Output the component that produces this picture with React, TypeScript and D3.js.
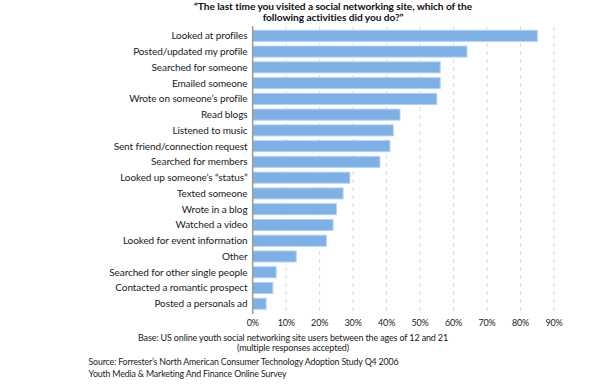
import React from 'react';
import * as d3 from 'd3';

const categories = [
  'Looked at profiles',
  'Posted/updated my profile',
  'Searched for someone',
  'Emailed someone',
  'Wrote on someone’s profile',
  'Read blogs',
  'Listened to music',
  'Sent friend/connection request',
  'Searched for members',
  'Looked up someone’s “status”',
  'Texted someone',
  'Wrote in a blog',
  'Watched a video',
  'Looked for event information',
  'Other',
  'Searched for other single people',
  'Contacted a romantic prospect',
  'Posted a personals ad',
];
const values = [85, 64, 56, 56, 55, 44, 42, 41, 38, 29, 27, 25, 24, 22, 13, 7, 6, 4];
const ticks = [0, 10, 20, 30, 40, 50, 60, 70, 80, 90];

const titleLines = [
  '“The last time you visited a social networking site, which of the',
  'following activities did you do?”',
];
const baseLines = [
  'Base: US online youth social networking site users between the ages of 12 and 21',
  '(multiple responses accepted)',
];
const sourceLines = [
  'Source: Forrester’s North American Consumer Technology Adoption Study Q4 2006',
  'Youth Media & Marketing And Finance Online Survey',
];

const W = 594, H = 388;
const FONT = 'Lato, "Open Sans", sans-serif';

export default function App() {
  const x = d3.scaleLinear().domain([0, 90]).range([252.7, 554]);
  const y = d3.scaleBand<string>().domain(categories).range([25.6, 314]).padding(0.3);
  const [y0, y1] = [27, 313];

  return (
    <svg width={W} height={H} style={{ position: 'absolute', left: 0, top: 0, background: '#fff' }} fontFamily={FONT}>
      {titleLines.map((t, i) => (
        <text key={t} x={333} y={9.5 + i * 11.5} textAnchor="middle" fontSize={10.2} fontWeight="bold" fill="#111" letterSpacing={-0.08}>{t}</text>
      ))}

      {ticks.slice(1).map(t => (
        <line key={t} x1={x(t)} x2={x(t)} y1={y0} y2={y1} stroke="#d9d9d9" strokeWidth={1} strokeDasharray="4,4" />
      ))}

      {categories.map((c, i) => (
        <g key={c}>
          <rect x={x(0)} y={y(c)} width={x(values[i]) - x(0)} height={y.bandwidth()} fill="#7db1e6" stroke="#b3d2f2" strokeWidth={1} />
          <text x={247.5} y={(y(c) ?? 0) + y.bandwidth() / 2} dy="0.35em" textAnchor="end" fontSize={10} letterSpacing={-0.1} fill="#1a1a1a">{c}</text>
        </g>
      ))}

      <line x1={x(0)} x2={x(0)} y1={y0 - 1} y2={y1 + 1} stroke="#999" strokeWidth={1.5} />

      {ticks.map(t => (
        <text key={t} x={x(t)} y={326} textAnchor="middle" fontSize={9} letterSpacing={-0.2} fill="#1a1a1a">{t}%</text>
      ))}

      {baseLines.map((t, i) => (
        <text key={t} x={293} y={341 + i * 9.5} textAnchor="middle" fontSize={9} letterSpacing={-0.15} fill="#1a1a1a">{t}</text>
      ))}
      {sourceLines.map((t, i) => (
        <text key={t} x={88.5} y={365 + i * 11.5} fontSize={8.8} letterSpacing={-0.15} fill="#1a1a1a">{t}</text>
      ))}
    </svg>
  );
}
